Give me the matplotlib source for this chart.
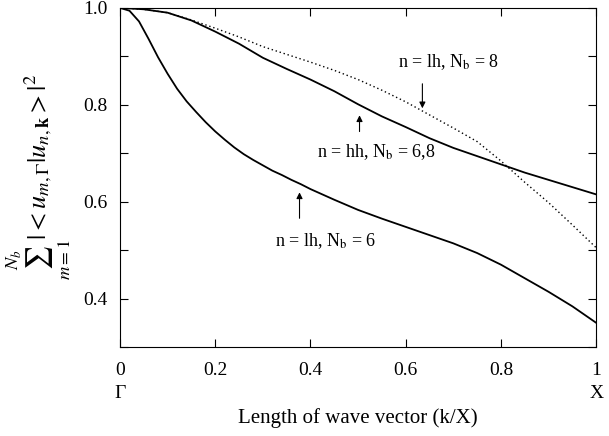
import matplotlib
matplotlib.use('Agg')
import matplotlib.pyplot as plt
from matplotlib.ticker import MultipleLocator

plt.rcParams['font.family'] = ['Liberation Serif', 'DejaVu Serif']
plt.rcParams['mathtext.fontset'] = 'stix'

# lh band, Nb = 6 (lower solid curve)
k_lh6 = [0.0, 0.02, 0.04, 0.06, 0.08, 0.10, 0.12, 0.14, 0.16, 0.18, 0.20, 0.22, 0.24,
         0.26, 0.28, 0.30, 0.32, 0.34, 0.36, 0.38, 0.40, 0.45, 0.50, 0.55, 0.60, 0.65,
         0.70, 0.75, 0.80, 0.85, 0.90, 0.95, 1.0]
w_lh6 = [1.0, 0.994, 0.972, 0.936, 0.898, 0.864, 0.833, 0.807, 0.785, 0.764, 0.745,
         0.728, 0.712, 0.698, 0.686, 0.675, 0.664, 0.655, 0.645, 0.636, 0.626, 0.604,
         0.583, 0.565, 0.548, 0.531, 0.514, 0.494, 0.470, 0.442, 0.414, 0.384, 0.350]

# hh band, Nb = 6 and 8 (upper solid curve)
k_hh = [0.0, 0.05, 0.10, 0.15, 0.20, 0.25, 0.30, 0.35, 0.40, 0.45, 0.50, 0.55, 0.60,
        0.65, 0.70, 0.75, 0.80, 0.85, 0.90, 0.95, 1.0]
w_hh = [1.0, 0.997, 0.990, 0.974, 0.951, 0.926, 0.897, 0.874, 0.852, 0.828, 0.801,
        0.776, 0.754, 0.731, 0.711, 0.694, 0.677, 0.660, 0.645, 0.630, 0.615]

# lh band, Nb = 8 (dotted curve)
k_lh8 = [0.0, 0.05, 0.10, 0.15, 0.20, 0.25, 0.30, 0.35, 0.40, 0.45, 0.50, 0.55, 0.60,
         0.65, 0.70, 0.75, 0.80, 0.85, 0.90, 0.95, 1.0]
w_lh8 = [1.0, 0.997, 0.990, 0.975, 0.958, 0.940, 0.920, 0.904, 0.888, 0.871, 0.852,
         0.830, 0.806, 0.779, 0.752, 0.724, 0.684, 0.640, 0.598, 0.552, 0.505]

fig = plt.figure(figsize=(6.09, 4.36), dpi=100)
ax = fig.add_axes([0.197, 0.204, 0.782, 0.778])

ax.plot(k_lh6, w_lh6, color='black', lw=1.3)
ax.plot(k_hh, w_hh, color='black', lw=1.3)
ax.plot(k_lh8, w_lh8, color='black', lw=1.0, ls=(0, (1, 2)))

ax.set_xlim(0, 1)
ax.set_ylim(0.3, 1.0)
ax.set_xticks([0, 0.2, 0.4, 0.6, 0.8, 1])
ax.set_xticklabels(['0\n\u0393', '0.2', '0.4', '0.6', '0.8', '1\nX'], linespacing=1.45)
ax.set_yticks([0.4, 0.6, 0.8, 1.0])
ax.yaxis.set_minor_locator(MultipleLocator(0.1))
ax.tick_params(direction='in', length=6, width=0.8, top=True, right=True,
               labelsize=14)
ax.tick_params(axis='x', pad=11)
ax.tick_params(axis='y', pad=9)
ax.tick_params(which='minor', direction='in', length=6, width=0.8, right=True)

ax.set_xlabel('Length of wave vector (k/X)', fontsize=15, labelpad=4)
ax.set_ylabel(r'$\sum_{m=1}^{N_b}|<u_{m,\Gamma}|u_{n,\mathbf{k}}>|^2$',
              fontsize=19, labelpad=7)

arrow = dict(arrowstyle='-|>', color='black', lw=0.8, mutation_scale=9)

ax.annotate('', xy=(0.635, 0.787), xytext=(0.635, 0.849), arrowprops=arrow)
ax.text(0.689, 0.877, r'n = lh, N$_\mathrm{b}$ = 8', ha='center', va='baseline', fontsize=13)

ax.annotate('', xy=(0.503, 0.784), xytext=(0.503, 0.739), arrowprops=arrow)
ax.text(0.539, 0.691, r'n = hh, N$_\mathrm{b}$ = 6,8', ha='center', va='baseline', fontsize=13)

ax.annotate('', xy=(0.377, 0.625), xytext=(0.377, 0.560), arrowprops=arrow)
ax.text(0.432, 0.508, r'n = lh, N$_\mathrm{b}$ = 6', ha='center', va='baseline', fontsize=13)

fig.savefig('out.png', dpi=100)
